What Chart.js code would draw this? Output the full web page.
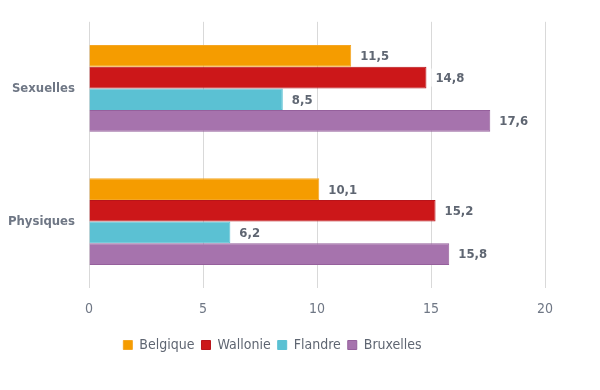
<!DOCTYPE html>
<html>
<head>
<meta charset="utf-8">
<script src="https://cdn.jsdelivr.net/npm/chart.js@4"></script>
<style>
  html, body { margin: 0; padding: 0; background: #fff; }
  #wrap { width: 600px; height: 390px; }
</style>
</head>
<body>
<div id="wrap"><canvas id="c"></canvas></div>
<script>
"use strict";
const categories = ["Sexuelles", "Physiques"];
const seriesNames = ["Belgique", "Wallonie", "Flandre", "Bruxelles"];
const belgique = [11.5, 10.1];
const wallonie = [14.8, 15.2];
const flandre = [8.5, 6.2];
const bruxelles = [17.6, 15.8];
const xTicks = [0, 5, 10, 15, 20];

const FONT = "'Liberation Sans Narrow', 'DejaVu Sans Condensed', 'Roboto', sans-serif";
const COL = ["#f59c00", "#cc1719", "#5bc1d3", "#a673ad"];
const EDGE = ["#f5a623", "#b8141a", "#5bc1d3", "#95609c"];

// value labels with a white box, right of each bar
const valueLabels = {
  id: "valueLabels",
  afterDatasetsDraw(chart) {
    const ctx = chart.ctx;
    ctx.save();
    ctx.font = "bold 13px " + FONT;
    ctx.textBaseline = "middle";
    chart.data.datasets.forEach((ds, i) => {
      chart.getDatasetMeta(i).data.forEach((bar, j) => {
        const txt = ds.data[j].toFixed(1).replace(".", ",");
        const w = ctx.measureText(txt).width;
        const x = bar.x + 9;
        ctx.fillStyle = "#fff";
        ctx.fillRect(x - 4, bar.y - 9, w + 8, 18);
        ctx.fillStyle = "#5f6672";
        ctx.fillText(txt, x, bar.y + 1);
      });
    });
    ctx.restore();
  }
};

const data = [belgique, wallonie, flandre, bruxelles];
new Chart(document.getElementById("c"), {
  type: "bar",
  data: {
    labels: categories,
    datasets: seriesNames.map((n, i) => ({
      label: n, data: data[i], backgroundColor: COL[i], borderColor: EDGE[i],
      borderWidth: 1, borderSkipped: "left",
      categoryPercentage: 0.65, barPercentage: 1
    }))
  },
  options: {
    indexAxis: "y",
    responsive: true, maintainAspectRatio: false, animation: false,
    layout: { padding: { top: 4, right: 55, left: 0, bottom: 28 } },
    scales: {
      x: {
        min: 0, max: 20,
        afterBuildTicks: (s) => { s.ticks = xTicks.map((v) => ({ value: v })); },
        grid: { color: "#d9d9d9", lineWidth: 1, drawTicks: false },
        border: { display: false },
        ticks: { color: "#6f7785", padding: 13, font: { family: FONT, size: 14 } }
      },
      y: {
        afterFit: (s) => { s.width = 89; },
        grid: { display: false, drawTicks: false, tickLength: 0 },
        border: { display: false },
        ticks: { color: "#6f7785", padding: 14, font: { family: FONT, size: 13, weight: "bold" } }
      }
    },
    plugins: {
      legend: {
        position: "bottom",
        labels: { boxWidth: 9, boxHeight: 9, padding: 7, color: "#5f6672",
          font: { family: FONT, size: 14 } }
      },
      tooltip: { enabled: false }
    }
  },
  plugins: [valueLabels]
});
</script>
</body>
</html>
